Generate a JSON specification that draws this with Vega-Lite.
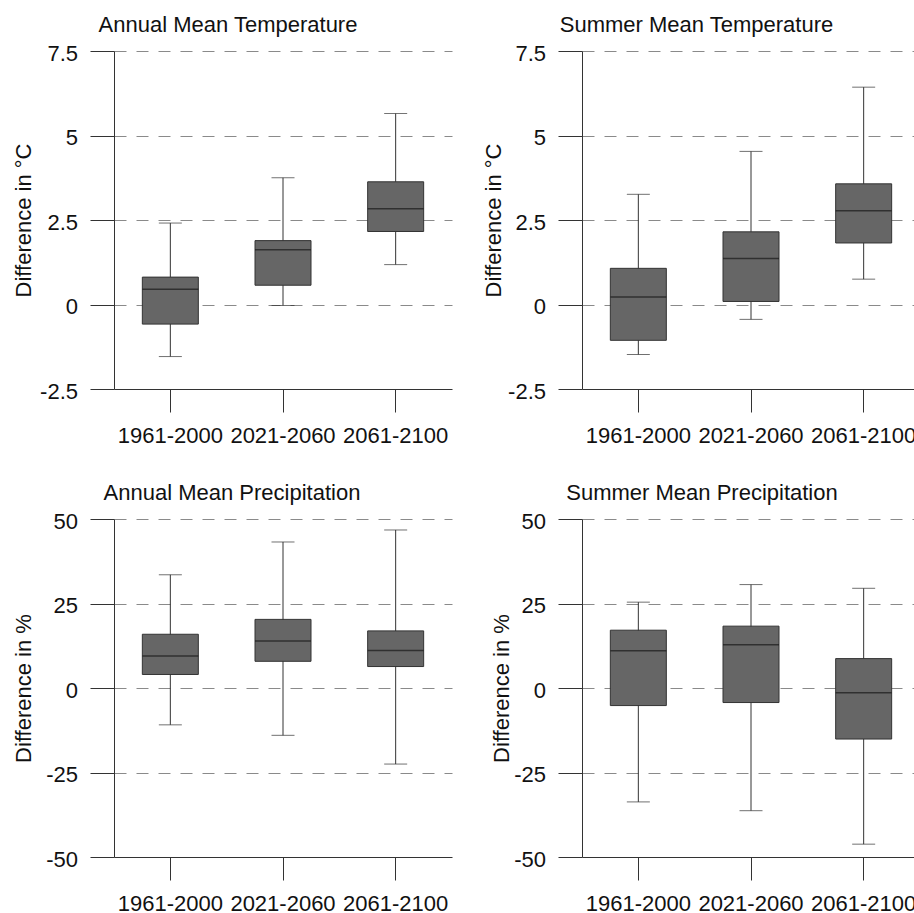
{
  "$schema": "https://vega.github.io/schema/vega-lite/v6.json",
  "padding": {"left": 12, "top": 14, "right": 0, "bottom": 0},
  "background": "white",
  "data": {"values": [
    {"panel": "AT", "period": "1961-2000", "lo": -1.54, "q1": -0.58, "med": 0.45, "q3": 0.81, "hi": 2.41},
    {"panel": "AT", "period": "2021-2060", "lo": -0.03, "q1": 0.57, "med": 1.62, "q3": 1.89, "hi": 3.75},
    {"panel": "AT", "period": "2061-2100", "lo": 1.18, "q1": 2.16, "med": 2.83, "q3": 3.63, "hi": 5.65},
    {"panel": "ST", "period": "1961-2000", "lo": -1.48, "q1": -1.06, "med": 0.22, "q3": 1.07, "hi": 3.26},
    {"panel": "ST", "period": "2021-2060", "lo": -0.44, "q1": 0.09, "med": 1.36, "q3": 2.15, "hi": 4.53},
    {"panel": "ST", "period": "2061-2100", "lo": 0.75, "q1": 1.82, "med": 2.77, "q3": 3.57, "hi": 6.43},
    {"panel": "AP", "period": "1961-2000", "lo": -10.9, "q1": 4.0, "med": 9.5, "q3": 15.9, "hi": 33.5},
    {"panel": "AP", "period": "2021-2060", "lo": -14.0, "q1": 7.9, "med": 13.9, "q3": 20.3, "hi": 43.2},
    {"panel": "AP", "period": "2061-2100", "lo": -22.5, "q1": 6.35, "med": 11.1, "q3": 16.9, "hi": 46.75},
    {"panel": "SP", "period": "1961-2000", "lo": -33.7, "q1": -5.2, "med": 11.0, "q3": 17.1, "hi": 25.4},
    {"panel": "SP", "period": "2021-2060", "lo": -36.3, "q1": -4.3, "med": 12.8, "q3": 18.3, "hi": 30.6},
    {"panel": "SP", "period": "2061-2100", "lo": -46.2, "q1": -15.1, "med": -1.4, "q3": 8.7, "hi": 29.5}
  ]},
  "columns": 2,
  "spacing": {"row": 36, "column": 30},
  "concat": [
    {
      "width": 338, "height": 338,
      "title": {"text": "Annual Mean Temperature", "dx": -55},
      "transform": [{"filter": "datum.panel === 'AT'"}],
      "encoding": {"x": {"field": "period", "type": "nominal", "scale": {"paddingInner": 0, "paddingOuter": 0},
        "axis": {"title": null, "labelAngle": 0, "tickSize": 23, "labelPadding": 13, "grid": false}}},
      "layer": [
        {"mark": {"type": "rule", "color": "#333333", "strokeWidth": 1},
         "encoding": {"y": {"field": "lo", "type": "quantitative", "scale": {"domain": [-2.5, 7.5], "nice": false, "zero": false},
           "axis": {"title": "Difference in °C", "values": [-2.5, 0, 2.5, 5, 7.5], "titleX": -79,
             "gridOpacity": {"condition": {"test": "datum.value === -2.5", "value": 0}, "value": 1}}},
           "y2": {"field": "hi"}}},
        {"mark": {"type": "tick", "size": 23, "thickness": 1, "color": "#333333"}, "encoding": {"y": {"field": "lo", "type": "quantitative"}}},
        {"mark": {"type": "tick", "size": 23, "thickness": 1, "color": "#333333"}, "encoding": {"y": {"field": "hi", "type": "quantitative"}}},
        {"mark": {"type": "bar", "size": 56, "fill": "#666666", "stroke": "#333333", "strokeWidth": 1},
         "encoding": {"y": {"field": "q1", "type": "quantitative"}, "y2": {"field": "q3"}}},
        {"mark": {"type": "tick", "size": 56, "thickness": 1.5, "color": "#1a1a1a"}, "encoding": {"y": {"field": "med", "type": "quantitative"}}}
      ]
    },
    {
      "width": 338, "height": 338,
      "title": {"text": "Summer Mean Temperature", "dx": -54.5},
      "transform": [{"filter": "datum.panel === 'ST'"}],
      "encoding": {"x": {"field": "period", "type": "nominal", "scale": {"paddingInner": 0, "paddingOuter": 0},
        "axis": {"title": null, "labelAngle": 0, "tickSize": 23, "labelPadding": 13, "grid": false}}},
      "layer": [
        {"mark": {"type": "rule", "color": "#333333", "strokeWidth": 1},
         "encoding": {"y": {"field": "lo", "type": "quantitative", "scale": {"domain": [-2.5, 7.5], "nice": false, "zero": false},
           "axis": {"title": "Difference in °C", "values": [-2.5, 0, 2.5, 5, 7.5], "titleX": -77,
             "gridOpacity": {"condition": {"test": "datum.value === -2.5", "value": 0}, "value": 1}}},
           "y2": {"field": "hi"}}},
        {"mark": {"type": "tick", "size": 23, "thickness": 1, "color": "#333333"}, "encoding": {"y": {"field": "lo", "type": "quantitative"}}},
        {"mark": {"type": "tick", "size": 23, "thickness": 1, "color": "#333333"}, "encoding": {"y": {"field": "hi", "type": "quantitative"}}},
        {"mark": {"type": "bar", "size": 56, "fill": "#666666", "stroke": "#333333", "strokeWidth": 1},
         "encoding": {"y": {"field": "q1", "type": "quantitative"}, "y2": {"field": "q3"}}},
        {"mark": {"type": "tick", "size": 56, "thickness": 1.5, "color": "#1a1a1a"}, "encoding": {"y": {"field": "med", "type": "quantitative"}}}
      ]
    },
    {
      "width": 338, "height": 338,
      "title": {"text": "Annual Mean Precipitation", "dx": -51},
      "transform": [{"filter": "datum.panel === 'AP'"}],
      "encoding": {"x": {"field": "period", "type": "nominal", "scale": {"paddingInner": 0, "paddingOuter": 0},
        "axis": {"title": null, "labelAngle": 0, "tickSize": 23, "labelPadding": 13, "grid": false}}},
      "layer": [
        {"mark": {"type": "rule", "color": "#333333", "strokeWidth": 1},
         "encoding": {"y": {"field": "lo", "type": "quantitative", "scale": {"domain": [-50, 50], "nice": false, "zero": false},
           "axis": {"title": "Difference in %", "values": [-50, -25, 0, 25, 50], "titleX": -79,
             "gridOpacity": {"condition": {"test": "datum.value === -50", "value": 0}, "value": 1}}},
           "y2": {"field": "hi"}}},
        {"mark": {"type": "tick", "size": 23, "thickness": 1, "color": "#333333"}, "encoding": {"y": {"field": "lo", "type": "quantitative"}}},
        {"mark": {"type": "tick", "size": 23, "thickness": 1, "color": "#333333"}, "encoding": {"y": {"field": "hi", "type": "quantitative"}}},
        {"mark": {"type": "bar", "size": 56, "fill": "#666666", "stroke": "#333333", "strokeWidth": 1},
         "encoding": {"y": {"field": "q1", "type": "quantitative"}, "y2": {"field": "q3"}}},
        {"mark": {"type": "tick", "size": 56, "thickness": 1.5, "color": "#1a1a1a"}, "encoding": {"y": {"field": "med", "type": "quantitative"}}}
      ]
    },
    {
      "width": 338, "height": 338,
      "title": {"text": "Summer Mean Precipitation", "dx": -49},
      "transform": [{"filter": "datum.panel === 'SP'"}],
      "encoding": {"x": {"field": "period", "type": "nominal", "scale": {"paddingInner": 0, "paddingOuter": 0},
        "axis": {"title": null, "labelAngle": 0, "tickSize": 23, "labelPadding": 13, "grid": false}}},
      "layer": [
        {"mark": {"type": "rule", "color": "#333333", "strokeWidth": 1},
         "encoding": {"y": {"field": "lo", "type": "quantitative", "scale": {"domain": [-50, 50], "nice": false, "zero": false},
           "axis": {"title": "Difference in %", "values": [-50, -25, 0, 25, 50], "titleX": -69,
             "gridOpacity": {"condition": {"test": "datum.value === -50", "value": 0}, "value": 1}}},
           "y2": {"field": "hi"}}},
        {"mark": {"type": "tick", "size": 23, "thickness": 1, "color": "#333333"}, "encoding": {"y": {"field": "lo", "type": "quantitative"}}},
        {"mark": {"type": "tick", "size": 23, "thickness": 1, "color": "#333333"}, "encoding": {"y": {"field": "hi", "type": "quantitative"}}},
        {"mark": {"type": "bar", "size": 56, "fill": "#666666", "stroke": "#333333", "strokeWidth": 1},
         "encoding": {"y": {"field": "q1", "type": "quantitative"}, "y2": {"field": "q3"}}},
        {"mark": {"type": "tick", "size": 56, "thickness": 1.5, "color": "#1a1a1a"}, "encoding": {"y": {"field": "med", "type": "quantitative"}}}
      ]
    }
  ],
  "config": {
    "font": "Liberation Sans",
    "view": {"stroke": null},
    "axis": {
      "labelFont": "Liberation Sans", "titleFont": "Liberation Sans",
      "labelFontSize": 22, "titleFontSize": 22, "titleFontWeight": "normal",
      "labelColor": "#111111", "titleColor": "#111111",
      "domainColor": "#333333", "tickColor": "#333333", "domainWidth": 1, "tickWidth": 1
    },
    "axisY": {
      "grid": true, "gridDash": [12, 10], "gridColor": "#8a8a8a", "gridWidth": 1,
      "tickSize": 24, "labelPadding": 12.5, "labelOffset": 2,
      "labelExpr": "toString(datum.value)",
      "titleBaseline": "bottom", "titleAngle": 270, "titleAlign": "center"
    },
    "axisX": {"grid": false},
    "title": {"font": "Liberation Sans", "fontSize": 22, "fontWeight": "normal", "color": "#111111", "offset": 5, "anchor": "middle"}
  }
}
